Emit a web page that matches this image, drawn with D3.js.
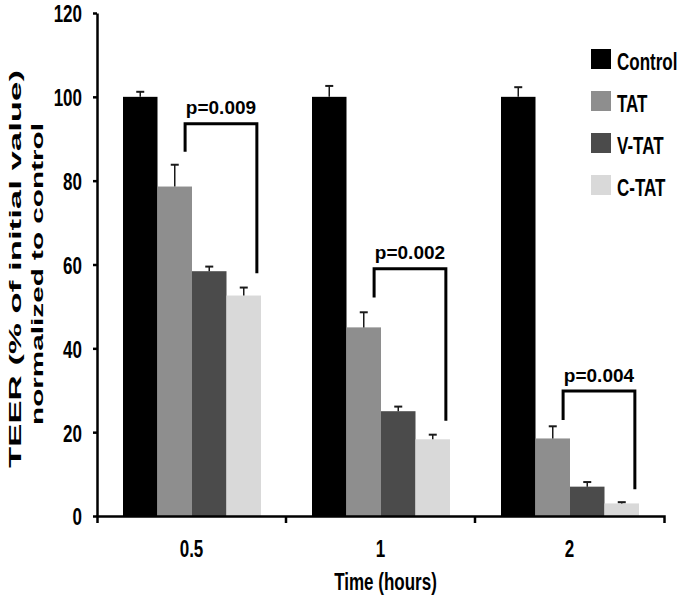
<!DOCTYPE html>
<html>
<head>
<meta charset="utf-8">
<script src="https://cdn.jsdelivr.net/npm/d3@7"></script>
<style>
  html, body { margin: 0; padding: 0; background: #fff; }
  svg { display: block; }
  text { font-family: "Liberation Sans", Arial, "DejaVu Sans", sans-serif; font-weight: bold; }
</style>
</head>
<body>
<svg id="chart" width="680" height="602"></svg>
<script>
// ---- data ----
const times = ["0.5", "1", "2"];
const series = ["Control", "TAT", "V-TAT", "C-TAT"];
const control = [100, 100, 100];
const tat = [78.6, 45.0, 18.5];
const vtat = [58.4, 25.0, 7.0];
const ctat = [52.6, 18.3, 3.0];
const controlErr = [1.2, 2.6, 2.3];
const tatErr = [5.2, 3.6, 2.9];
const vtatErr = [1.1, 1.1, 1.1];
const ctatErr = [1.9, 1.1, 0.3];
const yTicks = [0, 20, 40, 60, 80, 100, 120];
const pLabels = ["p=0.009", "p=0.002", "p=0.004"];
const bracketTop = [93.6, 59.0, 29.8];
const bracketLeftEnd = [86.9, 52.1, 22.9];
const bracketRightEnd = [57.9, 22.7, 6.4];
const colors = ["#000000", "#8e8e8e", "#4b4b4b", "#d9d9d9"];
const yTitle = ["TEER (% of initial value)", "normalized to control"];
const xTitle = "Time (hours)";

const values = [control, tat, vtat, ctat];
const errs = [controlErr, tatErr, vtatErr, ctatErr];

const svg = d3.select("#chart");
const K = 1.45; // vertical stretch of label glyphs in the reference

const y = d3.scaleLinear().domain([0, 120]).range([516, 13]);
const x = d3.scaleBand().domain(times).range([97, 664]).padding(0);
const xi = d3.scaleBand().domain(series).range([26, 164]).padding(0);
const color = d3.scaleOrdinal().domain(series).range(colors);

// bars
const rows = [];
times.forEach((t, ti) => series.forEach((s, si) => {
  rows.push({ t, s, v: values[si][ti], e: errs[si][ti] });
}));

svg.append("g").selectAll("rect").data(rows).join("rect")
  .attr("x", d => x(d.t) + xi(d.s))
  .attr("width", xi.bandwidth())
  .attr("y", d => y(d.v))
  .attr("height", d => y(0) - y(d.v))
  .attr("fill", d => color(d.s));

// error bars
const eg = svg.append("g").attr("stroke", "#1a1a1a");
eg.selectAll("line.v").data(rows).join("line").attr("class", "v")
  .attr("x1", d => x(d.t) + xi(d.s) + xi.bandwidth() / 2)
  .attr("x2", d => x(d.t) + xi(d.s) + xi.bandwidth() / 2)
  .attr("y1", d => y(d.v))
  .attr("y2", d => y(d.v + d.e))
  .attr("stroke-width", 1.5);
eg.selectAll("line.c").data(rows).join("line").attr("class", "c")
  .attr("x1", d => x(d.t) + xi(d.s) + xi.bandwidth() / 2 - 4)
  .attr("x2", d => x(d.t) + xi(d.s) + xi.bandwidth() / 2 + 4)
  .attr("y1", d => y(d.v + d.e))
  .attr("y2", d => y(d.v + d.e))
  .attr("stroke-width", 2);

// y axis
const yAxis = svg.append("g").attr("transform", "translate(97,0)")
  .call(d3.axisLeft(y).tickValues(yTicks).tickSizeInner(4).tickSizeOuter(0).tickPadding(11));
yAxis.select(".domain").attr("stroke", "#000").attr("stroke-width", 2.5);
yAxis.selectAll(".tick line").attr("stroke", "#000").attr("stroke-width", 2.5);
yAxis.selectAll(".tick text")
  .attr("fill", "#000").attr("font-size", 17)
  .attr("dy", "0.36em")
  .attr("transform", `scale(1,${K})`);

// x axis
const xAxis = svg.append("g").attr("transform", "translate(0,516)")
  .call(d3.axisBottom(x).tickSizeInner(0).tickSizeOuter(7));
xAxis.select(".domain").attr("stroke", "#000").attr("stroke-width", 2.5);
xAxis.selectAll(".tick text")
  .attr("fill", "#000").attr("font-size", 17)
  .attr("y", 0).attr("dy", 0)
  .attr("transform", `translate(0,41) scale(1,${K})`);
// boundary ticks between groups
svg.append("g").selectAll("line").data(times.slice(1)).join("line")
  .attr("x1", d => x(d)).attr("x2", d => x(d))
  .attr("y1", y(0)).attr("y2", y(0) + 7)
  .attr("stroke", "#000").attr("stroke-width", 2.5);

// axis titles
svg.append("text")
  .attr("transform", `translate(${(x.range()[0] + x.range()[1]) / 2 + 5},590) scale(1,${K})`)
  .attr("text-anchor", "middle").attr("font-size", 17).attr("fill", "#000")
  .text(xTitle);

const titleY = [[21, 269, 398], [43, 274, 302]];
yTitle.forEach((t, i) => {
  svg.append("text")
    .attr("transform", `translate(${titleY[i][0]},${titleY[i][1]}) rotate(-90)`)
    .attr("text-anchor", "middle").attr("font-size", 17).attr("fill", "#000")
    .attr("textLength", titleY[i][2]).attr("lengthAdjust", "spacingAndGlyphs")
    .text(t);
});

// significance brackets
const bg = svg.append("g");
times.forEach((t, i) => {
  const xl = x(t) + xi("TAT") + xi.bandwidth() * 0.8;
  const xr = x(t) + xi("C-TAT") + xi.bandwidth() * 0.88;
  bg.append("path")
    .attr("d", `M${xl},${y(bracketLeftEnd[i])}V${y(bracketTop[i])}H${xr}V${y(bracketRightEnd[i])}`)
    .attr("fill", "none").attr("stroke", "#000").attr("stroke-width", 3)
    .attr("stroke-linejoin", "miter");
  bg.append("text")
    .attr("x", (xl + xr) / 2).attr("y", y(bracketTop[i]) - 9.5)
    .attr("text-anchor", "middle").attr("font-size", 19).attr("fill", "#000")
    .text(pLabels[i]);
});

// legend
const lg = svg.append("g").attr("transform", "translate(591,49)");
const li = lg.selectAll("g").data(series).join("g")
  .attr("transform", (d, i) => `translate(0,${i * 42})`);
li.append("rect").attr("width", 20).attr("height", 20).attr("fill", d => color(d));
li.append("text")
  .attr("transform", `translate(26,20.8) scale(1,${K})`)
  .attr("font-size", 17).attr("fill", "#000")
  .text(d => d);
</script>
</body>
</html>
